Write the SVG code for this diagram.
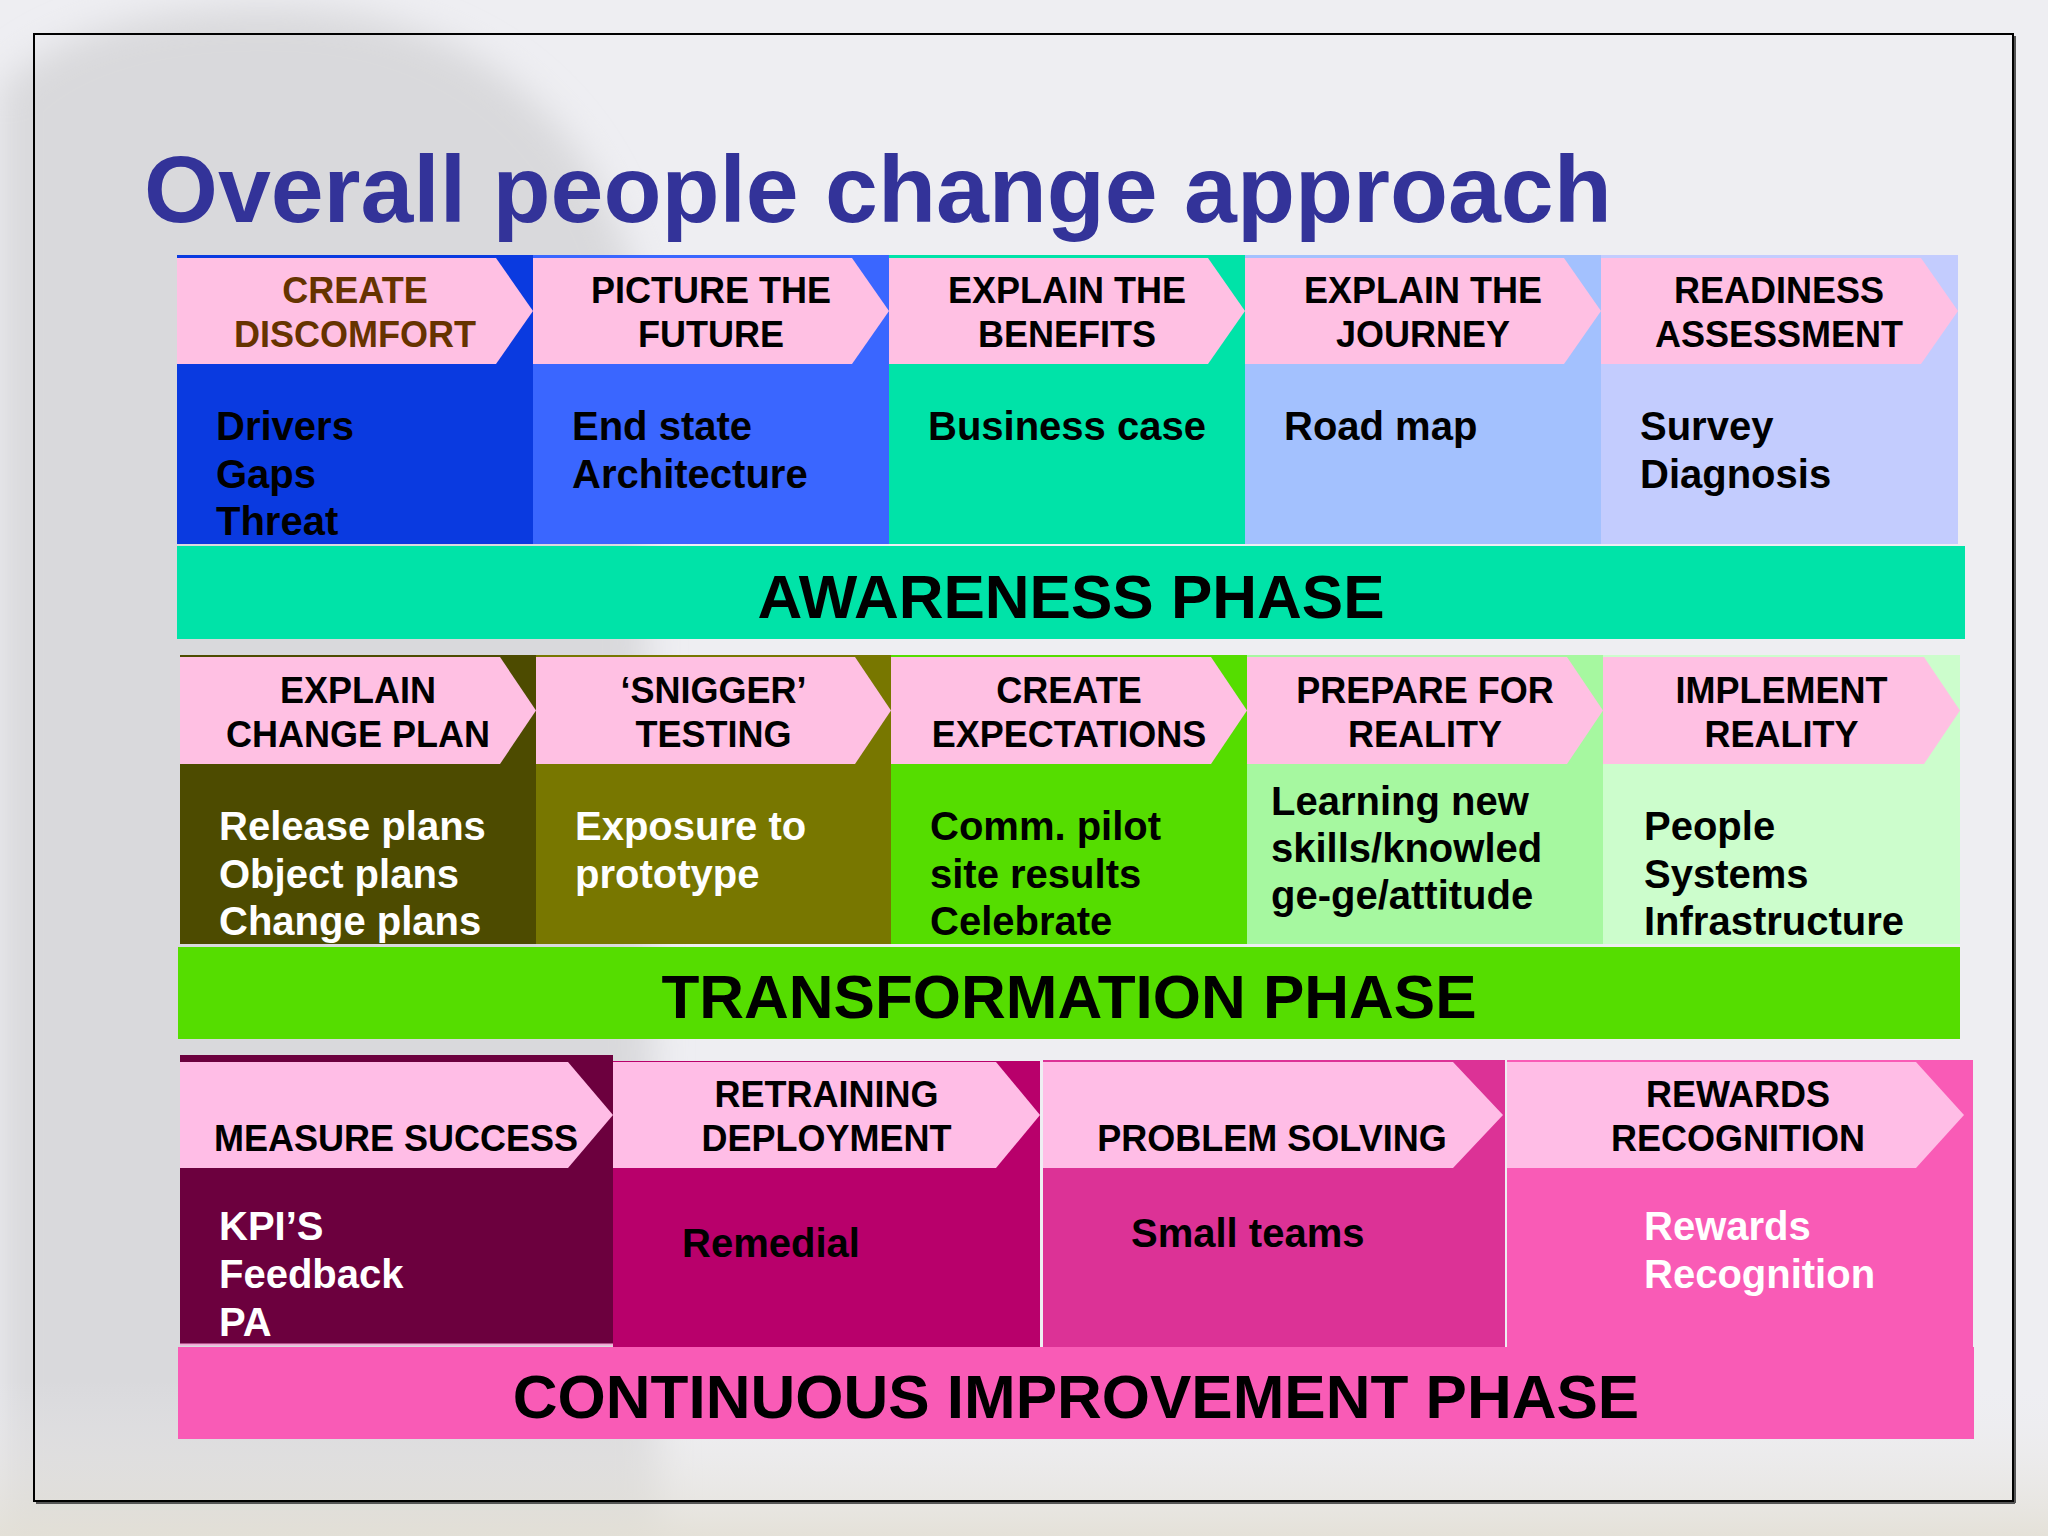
<svg xmlns="http://www.w3.org/2000/svg" width="2048" height="1536" viewBox="0 0 2048 1536">
<defs>
<filter id="blur" x="-20%" y="-20%" width="140%" height="140%"><feGaussianBlur stdDeviation="18"/></filter>
<linearGradient id="bottomFade" x1="0" y1="0" x2="0" y2="1">
<stop offset="0" stop-color="#eeeef2" stop-opacity="0"/>
<stop offset="1" stop-color="#e2ded2" stop-opacity="0.8"/>
</linearGradient>
<style>
text{font-family:"Liberation Sans",Arial,Helvetica,sans-serif;font-weight:bold}
.title{font-size:95px;fill:#333399}
.hd{font-size:36px;fill:#000;text-anchor:middle}
.bd{font-size:40px;fill:#000}
.wt{fill:#fff}
.ph{font-size:62px;fill:#000;text-anchor:middle}
.pk{fill:#ffc0e3}
.pk3{fill:#ffbde6}
</style>
</defs>
<rect x="0" y="0" width="2048" height="1536" fill="#eeeef2"/>
<path d="M0,90 C60,20 200,0 320,10 C480,25 600,120 640,300 L660,1536 L0,1536 Z" fill="#d9d9dc" filter="url(#blur)"/>
<rect x="0" y="1380" width="2048" height="156" fill="url(#bottomFade)"/>
<rect x="34" y="34" width="1979" height="1467" fill="none" stroke="#000" stroke-width="2"/>
<line x1="2015" y1="36" x2="2015" y2="1503" stroke="#555" stroke-width="2"/>
<line x1="36" y1="1503" x2="2015" y2="1503" stroke="#555" stroke-width="2"/>

<text id="title" class="title" x="144" y="222">Overall people change approach</text>

<g id="awareness-phase">
<g id="create-discomfort">
<rect x="177" y="255" width="356" height="289" fill="#0a3ae0"/>
<polygon class="pk" points="177,258 496,258 533,311 496,364 177,364"/>
<text class="hd" x="355" y="303" fill="#663300" style="fill:#663300">CREATE</text>
<text class="hd" x="355" y="347" style="fill:#663300">DISCOMFORT</text>
<text class="bd" x="216" y="440">Drivers</text>
<text class="bd" x="216" y="487.5">Gaps</text>
<text class="bd" x="216" y="535">Threat</text>
</g>
<g id="picture-the-future">
<rect x="533" y="255" width="356" height="289" fill="#3a66ff"/>
<polygon class="pk" points="533,258 852,258 889,311 852,364 533,364"/>
<text class="hd" x="711" y="303">PICTURE THE</text>
<text class="hd" x="711" y="347">FUTURE</text>
<text class="bd" x="572" y="440">End state</text>
<text class="bd" x="572" y="487.5">Architecture</text>
</g>
<g id="explain-the-benefits">
<rect x="889" y="255" width="356" height="289" fill="#00e3a8"/>
<polygon class="pk" points="889,258 1208,258 1245,311 1208,364 889,364"/>
<text class="hd" x="1067" y="303">EXPLAIN THE</text>
<text class="hd" x="1067" y="347">BENEFITS</text>
<text class="bd" x="928" y="440">Business case</text>
</g>
<g id="explain-the-journey">
<rect x="1245" y="255" width="356" height="289" fill="#a3c1fe"/>
<polygon class="pk" points="1245,258 1564,258 1601,311 1564,364 1245,364"/>
<text class="hd" x="1423" y="303">EXPLAIN THE</text>
<text class="hd" x="1423" y="347">JOURNEY</text>
<text class="bd" x="1284" y="440">Road map</text>
</g>
<g id="readiness-assessment">
<rect x="1601" y="255" width="357" height="289" fill="#c3ccfe"/>
<polygon class="pk" points="1601,258 1921,258 1958,311 1921,364 1601,364"/>
<text class="hd" x="1779" y="303">READINESS</text>
<text class="hd" x="1779" y="347">ASSESSMENT</text>
<text class="bd" x="1640" y="440">Survey</text>
<text class="bd" x="1640" y="487.5">Diagnosis</text>
</g>
<g id="awareness-bar">
<rect x="177" y="546" width="1788" height="93" fill="#00e3a8"/>
<text class="ph" x="1071" y="618">AWARENESS PHASE</text>
</g>
</g>

<g id="transformation-phase">
<g id="explain-change-plan">
<rect x="180" y="655" width="356" height="289" fill="#4d4b00"/>
<polygon class="pk" points="180,657 500,657 536,710.5 500,764 180,764"/>
<text class="hd" x="358" y="703">EXPLAIN</text>
<text class="hd" x="358" y="747">CHANGE PLAN</text>
<text class="bd wt" x="219" y="840">Release plans</text>
<text class="bd wt" x="219" y="887.5">Object plans</text>
<text class="bd wt" x="219" y="935">Change plans</text>
</g>
<g id="snigger-testing">
<rect x="536" y="655" width="355" height="289" fill="#787700"/>
<polygon class="pk" points="536,657 855,657 891,710.5 855,764 536,764"/>
<text class="hd" x="713.5" y="703">‘SNIGGER’</text>
<text class="hd" x="713.5" y="747">TESTING</text>
<text class="bd wt" x="575" y="840">Exposure to</text>
<text class="bd wt" x="575" y="887.5">prototype</text>
</g>
<g id="create-expectations">
<rect x="891" y="655" width="356" height="289" fill="#55dd00"/>
<polygon class="pk" points="891,657 1211,657 1247,710.5 1211,764 891,764"/>
<text class="hd" x="1069" y="703">CREATE</text>
<text class="hd" x="1069" y="747">EXPECTATIONS</text>
<text class="bd" x="930" y="840">Comm. pilot</text>
<text class="bd" x="930" y="887.5">site results</text>
<text class="bd" x="930" y="935">Celebrate</text>
</g>
<g id="prepare-for-reality">
<rect x="1247" y="655" width="356" height="289" fill="#a6f8a0"/>
<polygon class="pk" points="1247,657 1567,657 1603,710.5 1567,764 1247,764"/>
<text class="hd" x="1425" y="703">PREPARE FOR</text>
<text class="hd" x="1425" y="747">REALITY</text>
<text class="bd" x="1271" y="815">Learning new</text>
<text class="bd" x="1271" y="862">skills/knowled</text>
<text class="bd" x="1271" y="909">ge-ge/attitude</text>
</g>
<g id="implement-reality">
<rect x="1603" y="655" width="357" height="289" fill="#ccfdcc"/>
<polygon class="pk" points="1603,657 1924,657 1960,710.5 1924,764 1603,764"/>
<text class="hd" x="1781.5" y="703">IMPLEMENT</text>
<text class="hd" x="1781.5" y="747">REALITY</text>
<text class="bd" x="1644" y="840">People</text>
<text class="bd" x="1644" y="887.5">Systems</text>
<text class="bd" x="1644" y="935">Infrastructure</text>
</g>
<g id="transformation-bar">
<rect x="178" y="947" width="1782" height="92" fill="#55dd00"/>
<text class="ph" x="1069" y="1018">TRANSFORMATION PHASE</text>
</g>
</g>

<g id="continuous-improvement-phase">
<g id="measure-success">
<rect x="180" y="1055" width="433" height="289" fill="#6c003e"/>
<line x1="180" y1="1344.5" x2="613" y2="1344.5" stroke="#f6a6d6" stroke-width="2"/>
<polygon class="pk3" points="180,1062 568,1062 613,1115 568,1168 180,1168"/>
<text class="hd" x="396" y="1151">MEASURE SUCCESS</text>
<text class="bd wt" x="219" y="1240">KPI’S</text>
<text class="bd wt" x="219" y="1288">Feedback</text>
<text class="bd wt" x="219" y="1336">PA</text>
</g>
<g id="retraining-deployment">
<rect x="613" y="1061" width="427" height="286" fill="#b8006b"/>
<polygon class="pk3" points="613,1062 996,1062 1040,1115 996,1168 613,1168"/>
<text class="hd" x="826.5" y="1107">RETRAINING</text>
<text class="hd" x="826.5" y="1151">DEPLOYMENT</text>
<text class="bd" x="682" y="1257">Remedial</text>
</g>
<g id="problem-solving">
<rect x="1043" y="1060" width="462" height="287" fill="#dc3296"/>
<polygon class="pk3" points="1043,1062 1453,1062 1503,1115 1453,1168 1043,1168"/>
<text class="hd" x="1272" y="1151">PROBLEM SOLVING</text>
<text class="bd" x="1131" y="1247">Small teams</text>
</g>
<g id="rewards-recognition">
<rect x="1507" y="1060" width="466" height="287" fill="#f95bb6"/>
<polygon class="pk3" points="1507,1062 1916,1062 1964,1115 1916,1168 1507,1168"/>
<text class="hd" x="1738" y="1107">REWARDS</text>
<text class="hd" x="1738" y="1151">RECOGNITION</text>
<text class="bd wt" x="1644" y="1240">Rewards</text>
<text class="bd wt" x="1644" y="1288">Recognition</text>
</g>
<g id="continuous-improvement-bar">
<rect x="178" y="1347" width="1796" height="92" fill="#f95bb6"/>
<text class="ph" x="1076" y="1418">CONTINUOUS IMPROVEMENT PHASE</text>
</g>
</g>

<g id="connectors"/>
</svg>
